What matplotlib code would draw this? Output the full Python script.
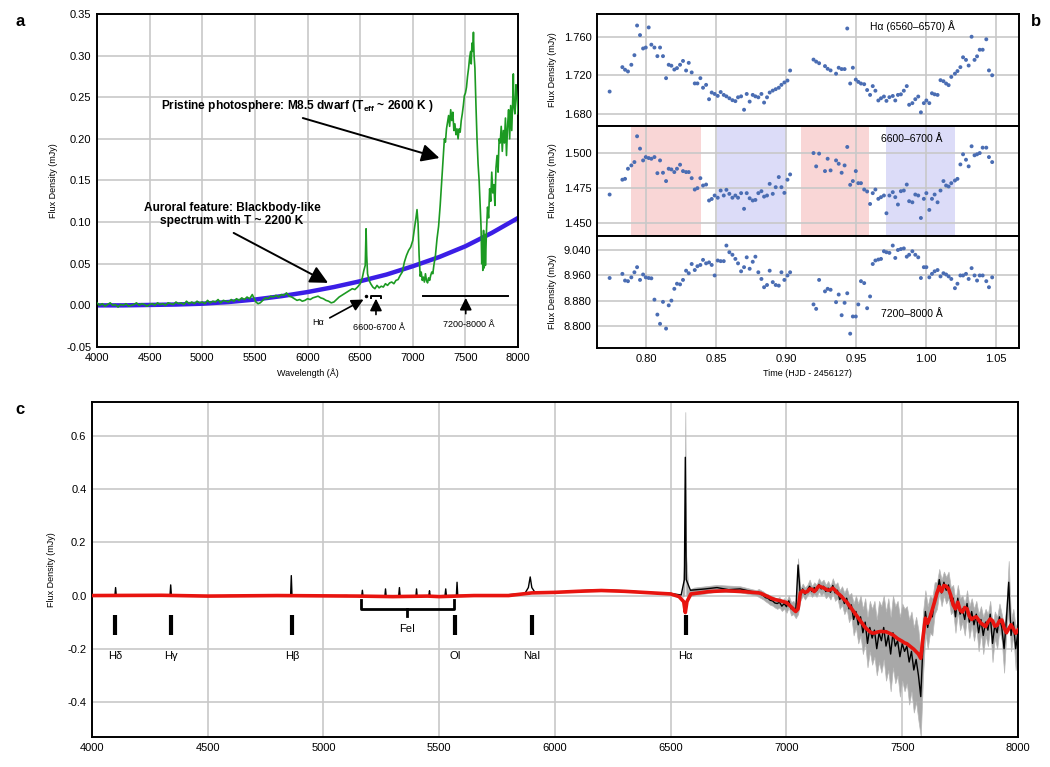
import numpy as np
import matplotlib
matplotlib.use("Agg")
import matplotlib.pyplot as plt
from matplotlib.ticker import FormatStrFormatter

plt.rcParams['font.family'] = ['Liberation Sans', 'DejaVu Sans']

# ---------------- panel a: spectrum and blackbody-like fit ----------------
a_wl = [4000, 4025, 4050, 4075, 4100, 4125, 4150, 4175, 4200, 4225, 4250, 4275, 4300, 4325, 4350,
        4375, 4400, 4425, 4450, 4475, 4500, 4525, 4550, 4575, 4600, 4625, 4650, 4675, 4700, 4725,
        4750, 4775, 4800, 4825, 4850, 4875, 4900, 4925, 4950, 4975, 5000, 5025, 5050, 5075, 5100,
        5125, 5150, 5175, 5200, 5225, 5250, 5275, 5300, 5325, 5350, 5375, 5400, 5425, 5450, 5475,
        5490, 5510, 5530, 5550, 5575, 5600, 5625, 5650, 5675, 5700, 5725, 5750, 5775, 5800, 5825,
        5850, 5875, 5900, 5925, 5950, 5975, 6000, 6025, 6050, 6075, 6100, 6125, 6150, 6175, 6200,
        6225, 6250, 6275, 6300, 6325, 6350, 6375, 6400, 6425, 6450, 6475, 6500, 6520, 6535, 6548,
        6556, 6562, 6570, 6585, 6600, 6620, 6640, 6660, 6680, 6700, 6720, 6740, 6760, 6780, 6800,
        6820, 6840, 6860, 6880, 6900, 6920, 6940, 6960, 6980, 7000, 7015, 7030, 7040, 7050, 7060,
        7070, 7080, 7090, 7100, 7110, 7120, 7130, 7140, 7150, 7160, 7170, 7180, 7190, 7200, 7215,
        7230, 7245, 7260, 7275, 7290, 7300, 7310, 7320, 7330, 7340, 7350, 7360, 7370, 7380, 7390,
        7400, 7410, 7420, 7430, 7440, 7450, 7460, 7470, 7480, 7490, 7500, 7510, 7520, 7530, 7540,
        7550, 7555, 7562, 7570, 7576, 7582, 7590, 7600, 7610, 7620, 7630, 7640, 7648, 7655, 7660,
        7665, 7672, 7678, 7685, 7690, 7700, 7710, 7720, 7730, 7740, 7750, 7760, 7770, 7780, 7790,
        7800, 7810, 7820, 7830, 7840, 7850, 7860, 7870, 7880, 7890, 7900, 7910, 7920, 7930, 7940,
        7950, 7955, 7960, 7970, 7980, 7990, 8000]
a_flux = [0.003, 0.000, 0.002, -0.001, 0.001, 0.003, 0.000, 0.001, -0.002, 0.001, 0.000, 0.002, -0.001, 0.000, 0.001,
          0.003, 0.000, 0.002, 0.001, -0.001, 0.001, 0.002, 0.000, 0.003, 0.001, 0.002, 0.000, 0.003, 0.002, 0.001,
          0.004, 0.002, 0.003, 0.001, 0.005, 0.002, 0.004, 0.002, 0.005, 0.003, 0.004, 0.002, 0.006, 0.003, 0.005,
          0.004, 0.007, 0.003, 0.006, 0.005, 0.004, 0.007, 0.005, 0.008, 0.006, 0.009, 0.007, 0.010, 0.008, 0.013,
          0.009, 0.004, 0.002, 0.003, 0.006, 0.009, 0.008, 0.011, 0.010, 0.012, 0.010, 0.013, 0.012, 0.015, 0.011,
          0.010, 0.008, 0.006, 0.007, 0.005, 0.006, 0.008, 0.007, 0.009, 0.010, 0.011, 0.009, 0.008, 0.006, 0.005,
          0.003, 0.004, 0.007, 0.010, 0.012, 0.014, 0.016, 0.018, 0.020, 0.019, 0.022, 0.026, 0.033, 0.042, 0.048,
          0.092, 0.060, 0.038, 0.030, 0.026, 0.022, 0.020, 0.024, 0.021, 0.023, 0.022, 0.026, 0.024, 0.027, 0.028,
          0.026, 0.030, 0.031, 0.036, 0.040, 0.052, 0.060, 0.066, 0.070, 0.078, 0.092, 0.105, 0.115, 0.098, 0.060,
          0.035, 0.040, 0.030, 0.034, 0.028, 0.038, 0.030, 0.027, 0.033, 0.030, 0.036, 0.040, 0.038, 0.048, 0.060,
          0.080, 0.095, 0.120, 0.150, 0.180, 0.200, 0.196, 0.212, 0.220, 0.228, 0.215, 0.235, 0.222, 0.232, 0.210,
          0.218, 0.205, 0.212, 0.200, 0.212, 0.208, 0.222, 0.230, 0.240, 0.252, 0.255, 0.262, 0.275, 0.285, 0.298,
          0.305, 0.290, 0.315, 0.305, 0.328, 0.300, 0.285, 0.240, 0.200, 0.170, 0.150, 0.120, 0.095, 0.050, 0.080,
          0.042, 0.090, 0.045, 0.085, 0.048, 0.090, 0.118, 0.105, 0.140, 0.125, 0.160, 0.135, 0.145, 0.120, 0.165,
          0.180, 0.160, 0.200, 0.195, 0.215, 0.185, 0.210, 0.195, 0.225, 0.180, 0.215, 0.235, 0.200, 0.240, 0.210,
          0.250, 0.278, 0.240, 0.230, 0.265, 0.250, 0.230]

bb_wl = [4000, 4250, 4500, 4750, 5000, 5250, 5500, 5750, 6000, 6250, 6500, 6750, 7000, 7250, 7500, 7750, 8000]
bb_flux = [0.000, 0.000, 0.0005, 0.001, 0.002, 0.004, 0.007, 0.011, 0.016, 0.022, 0.029, 0.037, 0.047,
           0.058, 0.071, 0.087, 0.105]

# ---------------- panel b: light curves ----------------
b_time = [0.7740, 0.7831, 0.7850, 0.7871, 0.7895, 0.7917, 0.7936, 0.7957, 0.7979, 0.7998,
          0.8019, 0.8038, 0.8060, 0.8081, 0.8100, 0.8121, 0.8143, 0.8162, 0.8181, 0.8202,
          0.8221, 0.8243, 0.8264, 0.8286, 0.8305, 0.8326, 0.8348, 0.8367, 0.8388, 0.8407,
          0.8429, 0.8450, 0.8469, 0.8490, 0.8512, 0.8533, 0.8555, 0.8574, 0.8595, 0.8617,
          0.8638, 0.8657, 0.8679, 0.8700, 0.8719, 0.8740, 0.8762, 0.8781, 0.8802, 0.8824,
          0.8843, 0.8864, 0.8883, 0.8905, 0.8926, 0.8948, 0.8967, 0.8988, 0.9010, 0.9029,
          0.9196, 0.9215, 0.9236, 0.9278, 0.9297, 0.9318, 0.9357, 0.9376, 0.9397, 0.9418,
          0.9437, 0.9458, 0.9477, 0.9498, 0.9516, 0.9535, 0.9558, 0.9579, 0.9600, 0.9619,
          0.9638, 0.9659, 0.9678, 0.9699, 0.9717, 0.9738, 0.9762, 0.9780, 0.9799, 0.9820,
          0.9841, 0.9862, 0.9879, 0.9902, 0.9923, 0.9944, 0.9963, 0.9984, 1.0002, 1.0023,
          1.0042, 1.0061, 1.0082, 1.0103, 1.0124, 1.0143, 1.0161, 1.0180, 1.0206, 1.0224,
          1.0245, 1.0264, 1.0285, 1.0304, 1.0325, 1.0346, 1.0364, 1.0383, 1.0404, 1.0430,
          1.0449, 1.0472]
b_halpha = [1.703, 1.7285, 1.7258, 1.724, 1.731, 1.741, 1.772, 1.762, 1.748, 1.749,
            1.770, 1.752, 1.749, 1.740, 1.749, 1.740, 1.717, 1.731, 1.730, 1.726,
            1.7275, 1.731, 1.735, 1.725, 1.733, 1.723, 1.7115, 1.7115, 1.717, 1.707,
            1.710, 1.695, 1.702, 1.7005, 1.6985, 1.7025, 1.6995, 1.698, 1.696, 1.694,
            1.693, 1.697, 1.698, 1.684, 1.7005, 1.6925, 1.6995, 1.698, 1.697, 1.7005,
            1.6915, 1.697, 1.702, 1.704, 1.7055, 1.707, 1.710, 1.7125, 1.7145, 1.725,
            1.7364, 1.7343, 1.7326, 1.7296, 1.7268, 1.7251, 1.7217, 1.7279, 1.7265, 1.7265,
            1.7689, 1.7114, 1.7279, 1.7155, 1.7131, 1.7114, 1.7107, 1.7046, 1.6995, 1.7087,
            1.7039, 1.6937, 1.6960, 1.6978, 1.6933, 1.6971, 1.6984, 1.6937, 1.6995, 1.7001,
            1.7039, 1.7087, 1.6892, 1.6909, 1.6950, 1.6978, 1.6813, 1.6909, 1.6937, 1.6909,
            1.7012, 1.7001, 1.6995, 1.7149, 1.7138, 1.7114, 1.7097, 1.7183, 1.7217, 1.7244,
            1.7285, 1.7388, 1.7361, 1.7302, 1.7603, 1.7361, 1.7398, 1.7467, 1.7467, 1.7576,
            1.7251, 1.7200]
b_6600 = [1.4703, 1.481, 1.4816, 1.4889, 1.4913, 1.4937, 1.5123, 1.5034, 1.4949, 1.4973,
          1.4966, 1.4961, 1.4973, 1.4857, 1.4949, 1.486, 1.480, 1.4889, 1.4884, 1.4865,
          1.4889, 1.4918, 1.4872, 1.4865, 1.4865, 1.4821, 1.4739, 1.4749, 1.4821, 1.4768,
          1.4775, 1.466, 1.4671, 1.4696, 1.468, 1.4732, 1.4696, 1.4737, 1.4708, 1.468,
          1.4696, 1.468, 1.4713, 1.460, 1.4713, 1.4676, 1.466, 1.4664, 1.4713, 1.4727,
          1.4688, 1.4696, 1.478, 1.4708, 1.4756, 1.4829, 1.4756, 1.4715, 1.481, 1.4848,
          1.5002, 1.4906, 1.4998, 1.4872, 1.4961, 1.4877, 1.4949, 1.4925, 1.4860, 1.4913,
          1.5046, 1.4773, 1.4800, 1.4872, 1.4785, 1.4785, 1.4739, 1.4725, 1.4635, 1.4713,
          1.4739, 1.4672, 1.4684, 1.4696, 1.4568, 1.4696, 1.4720, 1.4684, 1.4631, 1.4727,
          1.4732, 1.4775, 1.4655, 1.4647, 1.4703, 1.4696, 1.4534, 1.4672, 1.4713, 1.4592,
          1.4672, 1.4703, 1.4647, 1.4732, 1.4800, 1.4768, 1.4761, 1.4785, 1.4804, 1.4816,
          1.4920, 1.4993, 1.4954, 1.4906, 1.5051, 1.4986, 1.4993, 1.5002, 1.5041, 1.5041,
          1.4973, 1.4937]
b_7200 = [8.952, 8.965, 8.944, 8.942, 8.954, 8.970, 8.986, 8.946, 8.963, 8.954,
          8.952, 8.951, 8.884, 8.837, 8.808, 8.877, 8.793, 8.866, 8.881, 8.918,
          8.934, 8.932, 8.946, 8.975, 8.967, 8.996, 8.977, 8.989, 8.993, 9.009,
          8.998, 9.001, 8.993, 8.960, 9.007, 9.005, 9.005, 9.054, 9.033, 9.025,
          9.012, 8.998, 8.973, 8.986, 9.017, 8.981, 9.003, 9.019, 8.970, 8.949,
          8.923, 8.930, 8.975, 8.939, 8.930, 8.928, 8.970, 8.946, 8.960, 8.970,
          8.869, 8.855, 8.946, 8.910, 8.918, 8.915, 8.876, 8.900, 8.835, 8.874,
          8.904, 8.777, 8.831, 8.831, 8.869, 8.942, 8.936, 8.857, 8.894, 8.996,
          9.007, 9.010, 9.012, 9.036, 9.033, 9.031, 9.054, 9.015, 9.040, 9.043,
          9.045, 9.019, 9.025, 9.036, 9.025, 9.017, 8.952, 8.986, 8.986, 8.954,
          8.965, 8.973, 8.977, 8.957, 8.967, 8.963, 8.957, 8.949, 8.920, 8.934,
          8.960, 8.960, 8.965, 8.949, 8.983, 8.960, 8.944, 8.960, 8.960, 8.942,
          8.923, 8.954]
red_spans = [(0.7896, 0.8393), (0.9106, 0.9594)]
blue_spans = [(0.8507, 0.9000), (0.9714, 1.0203)]

# ---------------- panel c: difference spectrum ----------------
c_black_wl_a = [4000, 4050, 4099, 4102, 4105, 4150, 4200, 4250, 4300, 4337, 4340, 4343, 4400, 4500,
                4600, 4700, 4800, 4858, 4861, 4864, 4900, 5000, 5100, 5165, 5168, 5171, 5265, 5268,
                5271, 5325, 5328, 5331, 5399, 5402, 5405, 5455, 5458, 5461, 5525, 5528, 5531, 5574,
                5577, 5580, 5650, 5750, 5870, 5885, 5893, 5900, 5915, 6000, 6100, 6200, 6300, 6400,
                6500, 6545, 6559, 6563, 6567, 6585, 6650, 6700, 6750, 6800, 6850]
c_black_a = [0.000, 0.002, 0.000, 0.030, 0.000, -0.002, 0.001, -0.001, 0.000, 0.000, 0.040, 0.000, 0.001, -0.002,
             0.000, -0.002, 0.000, 0.000, 0.075, 0.000, 0.000, -0.002, 0.000, -0.004, 0.020, -0.004, -0.004, 0.025,
             -0.004, 0.000, 0.030, 0.000, -0.005, 0.025, -0.005, 0.000, 0.018, -0.002, 0.000, 0.025, 0.000, 0.000,
             0.050, 0.000, 0.000, 0.000, 0.008, 0.030, 0.070, 0.030, 0.010, 0.012, 0.018, 0.022, 0.018, 0.012,
             0.008, 0.002, 0.060, 0.520, 0.060, 0.020, 0.025, 0.030, 0.022, 0.025, 0.015]
c_red_wl_a = [4000, 4300, 4500, 4800, 5000, 5150, 5300, 5450, 5500, 5650, 5800, 5900, 6000, 6100, 6200,
              6300, 6400, 6500, 6536, 6556, 6563, 6570, 6587, 6666, 6738, 6810, 6868]
c_red_a = [0.000, 0.001, -0.002, 0.000, -0.001, -0.002, -0.004, -0.002, -0.004, 0.000, 0.000, 0.010, 0.012,
           0.016, 0.019, 0.016, 0.011, 0.006, -0.004, -0.023, -0.064, -0.023, 0.006, 0.015, 0.018, 0.015, 0.011]

c_grid_wl = [6880, 6890, 6900, 6910, 6920, 6930, 6940, 6950, 6960, 6970, 6980, 6990, 7000, 7010, 7020,
             7030, 7040, 7050, 7060, 7070, 7080, 7090, 7100, 7110, 7120, 7130, 7140, 7150, 7160, 7170,
             7180, 7190, 7200, 7210, 7220, 7230, 7240, 7250, 7260, 7270, 7280, 7290, 7300, 7310, 7320,
             7330, 7340, 7350, 7360, 7370, 7380, 7390, 7400, 7410, 7420, 7430, 7440, 7450, 7460, 7470,
             7480, 7490, 7500, 7510, 7520, 7530, 7540, 7550, 7560, 7570, 7580, 7590, 7600, 7610, 7620,
             7630, 7640, 7650, 7660, 7670, 7680, 7690, 7700, 7710, 7720, 7730, 7740, 7750, 7760, 7770,
             7780, 7790, 7800, 7810, 7820, 7830, 7840, 7850, 7860, 7870, 7880, 7890, 7900, 7910, 7920,
             7930, 7940, 7950, 7960, 7970, 7980, 7990, 8000]
c_black_b = [0.012, 0.005, 0.000, -0.008, -0.010, -0.018, -0.020, -0.028, -0.030, -0.025, -0.040, -0.030, -0.042, -0.020, -0.050,
             -0.045, -0.060, 0.115, 0.000, 0.025, 0.005, 0.020, 0.035, 0.015, 0.030, 0.018, 0.042, 0.025, 0.035, 0.015,
             0.028, 0.012, 0.038, 0.010, 0.020, -0.015, 0.000, -0.030, -0.010, -0.050, -0.035, -0.090, -0.060, -0.110, -0.080,
             -0.140, -0.100, -0.180, -0.120, -0.160, -0.130, -0.200, -0.140, -0.170, -0.120, -0.190, -0.150, -0.220, -0.140, -0.190,
             -0.170, -0.230, -0.180, -0.210, -0.190, -0.250, -0.210, -0.280, -0.240, -0.300, -0.380, -0.180, -0.060, -0.120, -0.070,
             -0.080, -0.010, 0.000, 0.060, 0.010, 0.050, 0.020, 0.040, -0.020, -0.010, -0.080, -0.010, -0.070, -0.050, -0.090,
             -0.030, -0.100, -0.060, -0.110, -0.070, -0.140, -0.090, -0.150, -0.100, -0.130, -0.070, -0.180, -0.110, -0.140, -0.080,
             -0.120, -0.200, -0.090, 0.050, -0.150, -0.100, -0.200, -0.140]
c_red_b = [0.010, 0.008, 0.004, 0.000, -0.004, -0.008, -0.012, -0.015, -0.017, -0.019, -0.021, -0.024, -0.026, -0.034, -0.042,
           -0.052, -0.060, -0.050, 0.010, 0.018, 0.012, 0.015, 0.025, 0.024, 0.015, 0.025, 0.036, 0.032, 0.029, 0.024,
           0.020, 0.022, 0.028, 0.020, 0.010, 0.003, -0.006, -0.016, -0.024, -0.036, -0.048, -0.060, -0.072, -0.084, -0.096,
           -0.108, -0.120, -0.128, -0.136, -0.141, -0.141, -0.138, -0.136, -0.135, -0.136, -0.136, -0.140, -0.144, -0.148, -0.155,
           -0.162, -0.167, -0.172, -0.178, -0.181, -0.188, -0.195, -0.202, -0.211, -0.220, -0.236, -0.155, -0.085, -0.104, -0.082,
           -0.052, -0.023, 0.010, 0.034, 0.015, 0.038, 0.035, 0.025, 0.000, -0.035, -0.050, -0.025, -0.055, -0.062, -0.045,
           -0.050, -0.078, -0.090, -0.083, -0.080, -0.092, -0.104, -0.110, -0.117, -0.100, -0.088, -0.095, -0.115, -0.112, -0.095,
           -0.092, -0.120, -0.140, -0.125, -0.110, -0.125, -0.142, -0.130]
c_band_wl_a = [6550, 6559, 6563, 6567, 6576, 6600, 6700, 6800, 6870]
c_band_lo_a = [-0.005, 0.000, 0.350, 0.000, -0.005, 0.000, 0.015, 0.012, 0.000]
c_band_hi_a = [0.005, 0.150, 0.690, 0.150, 0.020, 0.030, 0.040, 0.035, 0.020]
c_band_lo_b = [-0.005, -0.010, -0.015, -0.022, -0.028, -0.035, -0.038, -0.045, -0.050, -0.045, -0.058, -0.050, -0.065, -0.045, -0.075,
               -0.070, -0.085, -0.070, -0.020, 0.000, -0.015, 0.000, 0.010, -0.005, 0.005, -0.005, 0.015, 0.000, 0.010, -0.010,
               0.000, -0.015, 0.010, -0.020, -0.010, -0.050, -0.035, -0.070, -0.050, -0.100, -0.080, -0.150, -0.120, -0.180, -0.150,
               -0.220, -0.180, -0.270, -0.210, -0.260, -0.230, -0.300, -0.250, -0.290, -0.240, -0.320, -0.280, -0.360, -0.270, -0.330,
               -0.300, -0.380, -0.320, -0.360, -0.330, -0.410, -0.360, -0.440, -0.400, -0.470, -0.530, -0.300, -0.140, -0.200, -0.140,
               -0.150, -0.070, -0.050, 0.010, -0.040, 0.000, -0.030, -0.010, -0.070, -0.060, -0.140, -0.060, -0.130, -0.100, -0.150,
               -0.080, -0.160, -0.110, -0.170, -0.120, -0.210, -0.140, -0.220, -0.150, -0.190, -0.120, -0.250, -0.160, -0.200, -0.130,
               -0.170, -0.290, -0.140, -0.050, -0.210, -0.150, -0.280, -0.190]
c_band_hi_b = [0.025, 0.020, 0.015, 0.008, 0.005, 0.000, -0.002, -0.008, -0.010, -0.005, -0.020, -0.010, -0.020, 0.000, -0.025,
               -0.020, -0.035, 0.140, 0.025, 0.045, 0.030, 0.040, 0.060, 0.035, 0.050, 0.040, 0.065, 0.050, 0.060, 0.040,
               0.055, 0.035, 0.065, 0.040, 0.050, 0.020, 0.035, 0.010, 0.030, 0.000, 0.010, -0.030, 0.000, -0.030, 0.000,
               -0.050, -0.010, -0.080, -0.020, -0.050, -0.020, -0.090, -0.020, -0.040, 0.000, -0.060, -0.010, -0.080, 0.000, -0.040,
               -0.020, -0.080, -0.030, -0.050, -0.040, -0.090, -0.060, -0.120, -0.080, -0.130, -0.220, -0.060, 0.020, -0.040, 0.000,
               -0.010, 0.050, 0.050, 0.100, 0.060, 0.090, 0.070, 0.090, 0.030, 0.040, -0.020, 0.040, -0.010, 0.000, -0.030,
               0.020, -0.040, -0.010, -0.050, -0.020, -0.070, -0.040, -0.080, -0.050, -0.070, -0.020, -0.110, -0.060, -0.080, -0.030,
               -0.070, -0.110, -0.040, 0.130, -0.090, -0.050, -0.120, -0.090]

line_names = ['H\u03b4', 'H\u03b3', 'H\u03b2', 'OI', 'NaI', 'H\u03b1']
line_wl = [4101, 4341, 4864, 5568, 5900, 6565]

GRID = '#c8c8c8'


def frame(ax):
    for s in ax.spines.values():
        s.set_linewidth(1.4)
        s.set_color('black')
    ax.grid(True, color=GRID, lw=1.2)
    ax.set_axisbelow(True)
    ax.tick_params(length=0, labelsize=8, pad=4)


fig = plt.figure(figsize=(10.5, 7.67), dpi=100)

# ---- a ----
ax_a = fig.add_axes([0.0924, 0.5476, 0.4010, 0.4342])
frame(ax_a)
ax_a.plot(bb_wl, bb_flux, color='#3b1ee6', lw=3.2, solid_capstyle='round', zorder=2)
ax_a.plot(a_wl, a_flux, color='#1c9a22', lw=1.2, zorder=3)
ax_a.set_xlim(4000, 8000)
ax_a.set_ylim(-0.05, 0.35)
ax_a.set_xticks(np.arange(4000, 8001, 500))
ax_a.set_yticks(np.arange(-0.05, 0.351, 0.05))
ax_a.yaxis.set_major_formatter(FormatStrFormatter('%.2f'))
ax_a.set_xlabel('Wavelength (\u00c5)', fontsize=6.5, labelpad=4)
ax_a.set_ylabel('Flux Density (mJy)', fontsize=6.5, labelpad=6)

arw = dict(arrowstyle='-|>,head_length=0.9,head_width=0.45', color='black', lw=1.4,
           mutation_scale=12, shrinkA=0, shrinkB=0)
ax_a.text(5907, 0.239, 'Pristine photosphere: M8.5 dwarf (T$_{\\mathregular{eff}}$ ~ 2600 K )',
          ha='center', va='center', fontsize=8.6, fontweight='bold')
ax_a.annotate('', xy=(7253, 0.177), xytext=(5955, 0.225), arrowprops=arw)
ax_a.text(5282, 0.109, 'Auroral feature: Blackbody-like\nspectrum with T ~ 2200 K',
          ha='center', va='center', fontsize=8.6, fontweight='bold', linespacing=1.1)
ax_a.annotate('', xy=(6195, 0.027), xytext=(5298, 0.087), arrowprops=arw)

small = dict(arrowstyle='-|>,head_length=0.8,head_width=0.4', color='black', lw=1.2,
             mutation_scale=9, shrinkA=0, shrinkB=0)
ax_a.text(6099, -0.021, 'H\u03b1', ha='center', va='center', fontsize=6.5)
ax_a.annotate('', xy=(6532, 0.007), xytext=(6211, -0.015), arrowprops=small)
ax_a.plot([6555], [0.0116], 'k.', ms=3)
ax_a.plot([6600, 6600, 6700, 6700], [0.009, 0.0116, 0.0116, 0.009], color='black', lw=1.4)
ax_a.annotate('', xy=(6650, 0.008), xytext=(6650, -0.011), arrowprops=small)
ax_a.text(6676, -0.026, '6600-6700 \u00c5', ha='center', va='center', fontsize=6.5)
ax_a.plot([7095, 7905], [0.0116, 0.0116], color='black', lw=1.4)
ax_a.annotate('', xy=(7503, 0.009), xytext=(7503, -0.010), arrowprops=small)
ax_a.text(7535, -0.023, '7200-8000 \u00c5', ha='center', va='center', fontsize=6.5)

# ---- b ----
b_left, b_w = 0.5686, 0.4014
b_pos = [(0.8357, 0.1460), (0.6923, 0.1434), (0.5463, 0.1460)]
b_series = [b_halpha, b_6600, b_7200]
b_ylims = [(1.667, 1.784), (1.4404, 1.5197), (8.732, 9.084)]
b_yticks = [[1.680, 1.720, 1.760], [1.450, 1.475, 1.500], [8.800, 8.880, 8.960, 9.040]]
b_titles = ['H\u03b1 (6560\u20136570) \u00c5', '6600\u20136700 \u00c5', '7200\u20138000 \u00c5']
b_title_y = [0.895, 0.88, 0.30]
b_axes = []
for i in range(3):
    ax = fig.add_axes([b_left, b_pos[i][0], b_w, b_pos[i][1]])
    frame(ax)
    ax.scatter(b_time, b_series[i], s=8, color='#4a6db3', edgecolors='none', zorder=3)
    ax.set_xlim(0.765, 1.066)
    ax.set_ylim(*b_ylims[i])
    ax.set_yticks(b_yticks[i])
    ax.yaxis.set_major_formatter(FormatStrFormatter('%.3f'))
    ax.set_xticks([0.80, 0.85, 0.90, 0.95, 1.00, 1.05])
    ax.set_ylabel('Flux Density (mJy)', fontsize=6.5, labelpad=5)
    ax.text(0.99, b_title_y[i], b_titles[i], transform=ax.get_xaxis_transform(),
            ha='center', va='center', fontsize=7.5)
    if i < 2:
        ax.tick_params(labelbottom=False)
    b_axes.append(ax)
for x0, x1 in red_spans:
    b_axes[1].axvspan(x0, x1, color='#f9d6d6', lw=0, zorder=0)
for x0, x1 in blue_spans:
    b_axes[1].axvspan(x0, x1, color='#dcdcf8', lw=0, zorder=0)
b_axes[2].xaxis.set_major_formatter(FormatStrFormatter('%.2f'))
b_axes[2].set_xlabel('Time (HJD - 2456127)', fontsize=6.5, labelpad=4)

# ---- c ----
ax_c = fig.add_axes([0.0876, 0.0391, 0.8819, 0.4368])
frame(ax_c)
band_wl = c_band_wl_a + c_grid_wl
ax_c.fill_between(band_wl, c_band_lo_a + c_band_lo_b, c_band_hi_a + c_band_hi_b,
                  color='#a8a8a8', lw=0.5, edgecolor='#b8b8b8', zorder=2)
ax_c.plot(c_black_wl_a + c_grid_wl, c_black_a + c_black_b, color='black', lw=1.0, zorder=3)
ax_c.plot(c_red_wl_a + c_grid_wl, c_red_a + c_red_b, color='#e8140f', lw=2.6, zorder=4)
ax_c.set_xlim(4000, 8000)
ax_c.set_ylim(-0.532, 0.728)
ax_c.set_xticks(np.arange(4000, 8001, 500))
ax_c.set_yticks([-0.4, -0.2, 0.0, 0.2, 0.4, 0.6])
ax_c.yaxis.set_major_formatter(FormatStrFormatter('%.1f'))
ax_c.set_ylabel('Flux Density (mJy)', fontsize=6.5, labelpad=8)
for name, wl in zip(line_names, line_wl):
    ax_c.plot([wl, wl], [-0.072, -0.148], color='black', lw=3, solid_capstyle='butt', zorder=5)
    ax_c.text(wl, -0.228, name, ha='center', va='center', fontsize=8)
ax_c.plot([5160, 5160, 5565, 5565], [-0.015, -0.05, -0.05, -0.015], color='black', lw=2, zorder=5)
ax_c.plot([5360, 5360], [-0.05, -0.078], color='black', lw=2, zorder=5)
ax_c.text(5360, -0.127, 'FeI', ha='center', va='center', fontsize=8)

fig.text(0.019, 0.972, 'a', fontsize=12, fontweight='bold', ha='center', va='center')
fig.text(0.987, 0.972, 'b', fontsize=12, fontweight='bold', ha='center', va='center')
fig.text(0.019, 0.466, 'c', fontsize=12, fontweight='bold', ha='center', va='center')

fig.savefig('out.png', dpi=100)
